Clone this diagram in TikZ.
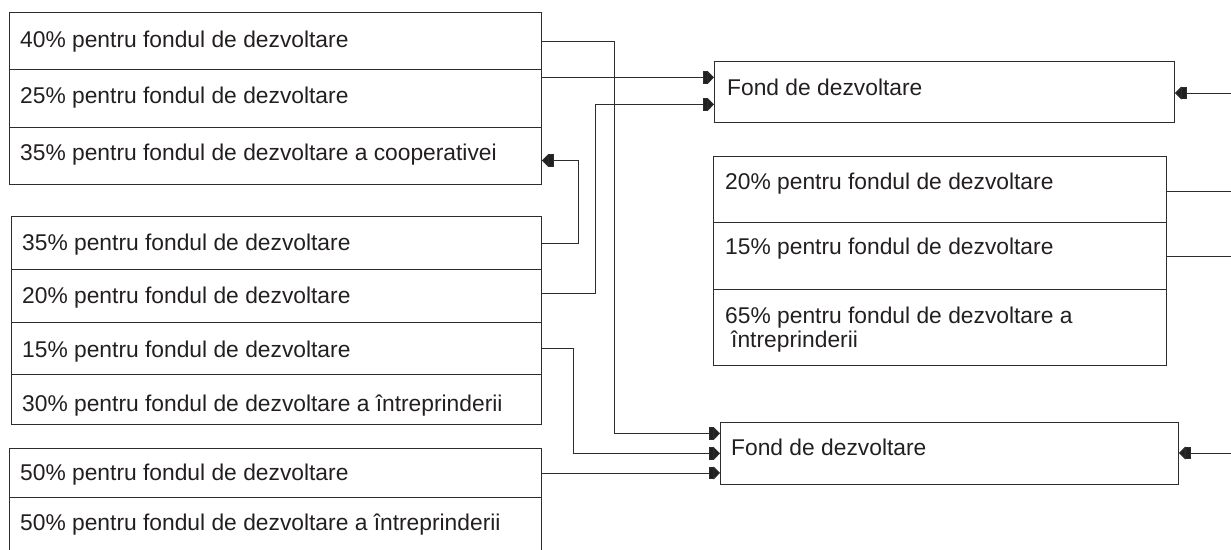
\documentclass[tikz,border=0pt]{standalone}
\usepackage{fontspec}
\setmainfont{Liberation Sans}
\usetikzlibrary{arrows.meta}
\definecolor{ink}{RGB}{35,31,32}
\definecolor{rule}{RGB}{45,45,45}
\begin{document}
\begin{tikzpicture}[x=1pt,y=-1pt,
  cell/.style={draw=rule, line width=0.9pt, rectangle, inner sep=0pt, anchor=north west},
  lbl/.style={font=\fontsize{22.8}{26}\selectfont, text=ink, inner sep=0pt, anchor=base west},
  link/.style={draw=rule, line width=0.9pt},
  tip/.style={-{Rectangle[length=5pt,width=12pt,sep=0pt,fill=ink]Triangle[length=6.5pt,width=13pt,fill=ink]}}
]
\useasboundingbox (0,0) rectangle (1231,549);
\clip (0,0) rectangle (1231,549);

% first block, top left
\node[cell, minimum width=532pt, minimum height=57pt] (a1) at (9,12) {};
\node[cell, minimum width=532pt, minimum height=58pt] (a2) at (9,69) {};
\node[cell, minimum width=532pt, minimum height=57pt] (a3) at (9,127) {};
\node[lbl] (a1t) at (20,47) {40\% pentru fondul de dezvoltare};
\node[lbl] (a2t) at (20,103) {25\% pentru fondul de dezvoltare};
\node[lbl] (a3t) at (20,160) {35\% pentru fondul de dezvoltare a cooperativei};

% second block
\node[cell, minimum width=530pt, minimum height=53pt] (b1) at (11,216) {};
\node[cell, minimum width=530pt, minimum height=53pt] (b2) at (11,269) {};
\node[cell, minimum width=530pt, minimum height=52pt] (b3) at (11,322) {};
\node[cell, minimum width=530pt, minimum height=50pt] (b4) at (11,374) {};
\node[lbl] (b1t) at (22,250) {35\% pentru fondul de dezvoltare};
\node[lbl] (b2t) at (22,303) {20\% pentru fondul de dezvoltare};
\node[lbl] (b3t) at (22,357) {15\% pentru fondul de dezvoltare};
\node[lbl] (b4t) at (22,411) {30\% pentru fondul de dezvoltare a întreprinderii};

% third block, running past the lower edge
\node[cell, minimum width=532pt, minimum height=49pt] (c1r) at (9,448) {};
\node[cell, minimum width=532pt, minimum height=80pt] (c2r) at (9,497) {};
\node[lbl] (c1t) at (20,480) {50\% pentru fondul de dezvoltare};
\node[lbl] (c2t) at (20,530) {50\% pentru fondul de dezvoltare a întreprinderii};

% development funds
\node[cell, minimum width=460pt, minimum height=61pt] (f1) at (714,61) {};
\node[lbl] (f1t) at (727,95) {Fond de dezvoltare};
\node[cell, minimum width=458pt, minimum height=62pt] (f2) at (720,422) {};
\node[lbl] (f2t) at (731,455) {Fond de dezvoltare};

% right block
\node[cell, minimum width=453pt, minimum height=66pt] (d1) at (713,156) {};
\node[cell, minimum width=453pt, minimum height=67pt] (d2) at (713,222) {};
\node[cell, minimum width=453pt, minimum height=76pt] (d3) at (713,289) {};
\node[lbl] (d1t) at (725,189) {20\% pentru fondul de dezvoltare};
\node[lbl] (d2t) at (725,254) {15\% pentru fondul de dezvoltare};
\node[lbl] (d3t) at (725,323) {65\% pentru fondul de dezvoltare a};
\node[lbl] (d3u) at (725,347) {\hspace*{6pt}întreprinderii};

% free ends at the right edge
\coordinate (e1) at (1240,93);
\coordinate (e2) at (1240,453);

% connectors
\draw[link,tip] (a1.east) -- ++(73,0) |- ([yshift=20pt]f2.west);
\draw[link,tip] ([yshift=21pt]a2.east) -- ([yshift=21pt]a2.east -| f1.west);
\draw[link,tip] (b1.east) -- ++(37,0) |- ([yshift=-4.5pt]a3.east);
\draw[link,tip] ([yshift=2.5pt]b2.east) -- ++(54,0) |- ([yshift=-12.5pt]f1.west);
\draw[link,tip] (b3.east) -- ++(32,0) |- (f2.west);
\draw[link,tip] (c1r.east) -- (c1r.east -| f2.west);
\draw[link,tip] (e1) -- (e1 -| f1.east);
\draw[link,tip] (e2) -- (e2 -| f2.east);
\draw[link] ([yshift=-2pt]d1.east) -- ([yshift=-2pt]d1.east -| e1);
\draw[link] (d2.east) -- (d2.east -| e1);
\end{tikzpicture}
\end{document}
